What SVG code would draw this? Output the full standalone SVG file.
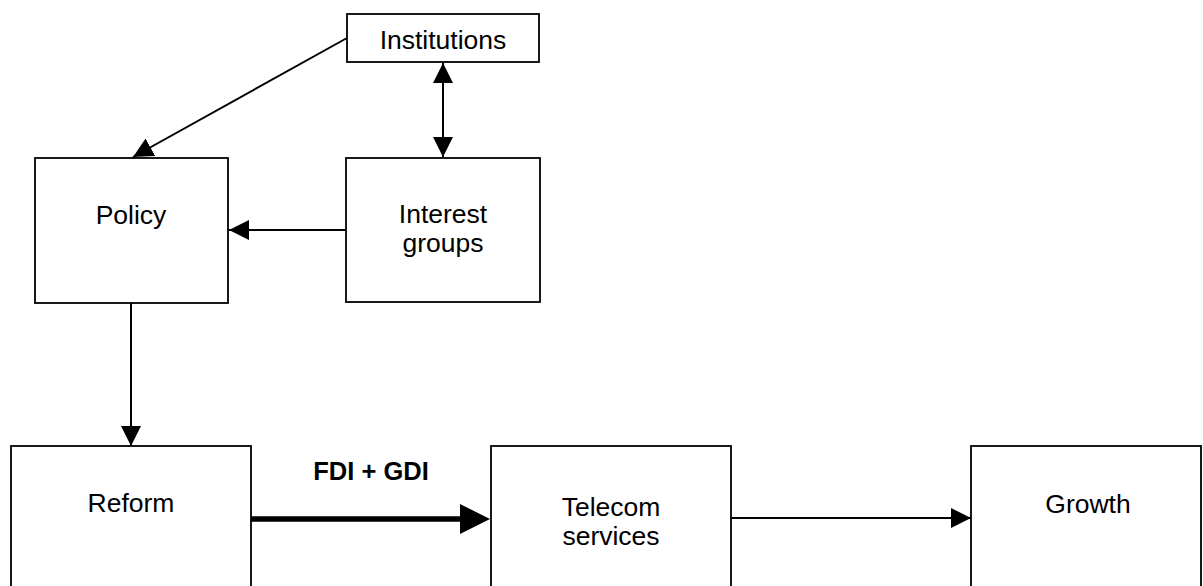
<svg xmlns="http://www.w3.org/2000/svg" width="1203" height="586" viewBox="0 0 1203 586">
<style>
.box{fill:#fff;stroke:#000;stroke-width:1.8}
.t{font-family:"Liberation Sans",Arial,sans-serif;font-size:26.5px;fill:#000;text-anchor:middle}
.b{font-weight:bold;font-size:25.5px}
.ln{stroke:#000;stroke-width:2;fill:none}
.thick{stroke:#000;stroke-width:5.5;fill:none}
</style>
<defs>
<marker id="ah" markerUnits="userSpaceOnUse" markerWidth="20" markerHeight="20" viewBox="0 0 20 20" refX="20" refY="10" orient="auto-start-reverse"><path d="M0,0 L20,10 L0,20 z" fill="#000"/></marker>
<marker id="ahb" markerUnits="userSpaceOnUse" markerWidth="30" markerHeight="30" viewBox="0 0 30 30" refX="10" refY="15" orient="auto"><path d="M0,0 L30,15 L0,30 z" fill="#000"/></marker>
</defs>
<rect width="1203" height="586" fill="#fff"/>
<g id="institutions"><rect class="box" x="347" y="14" width="192" height="48"/><text class="t" x="443" y="49">Institutions</text></g>
<g id="policy"><rect class="box" x="35" y="158" width="193" height="145"/><text class="t" x="131" y="224">Policy</text></g>
<g id="interest-groups"><rect class="box" x="346" y="158" width="194" height="144"/><text class="t" x="443" y="223">Interest</text><text class="t" x="443" y="252">groups</text></g>
<g id="reform"><rect class="box" x="11" y="446" width="240" height="170"/><text class="t" x="131" y="512">Reform</text></g>
<g id="telecom"><rect class="box" x="491" y="446" width="240" height="170"/><text class="t" x="611" y="516">Telecom</text><text class="t" x="611" y="545">services</text></g>
<g id="growth"><rect class="box" x="971" y="446" width="230" height="170"/><text class="t" x="1088" y="513">Growth</text></g>
<g id="connectors">
<line class="ln" x1="347" y1="38" x2="133" y2="157" marker-end="url(#ah)"/>
<line class="ln" x1="443" y1="63" x2="443" y2="157" marker-start="url(#ah)" marker-end="url(#ah)"/>
<line class="ln" x1="346" y1="230" x2="229" y2="230" marker-end="url(#ah)"/>
<line class="ln" x1="131" y1="303" x2="131" y2="446" marker-end="url(#ah)"/>
<line class="thick" x1="251" y1="519" x2="470" y2="519" marker-end="url(#ahb)"/>
<text class="t b" x="371" y="480">FDI + GDI</text>
<line class="ln" x1="731" y1="518" x2="971" y2="518" marker-end="url(#ah)"/>
</g>
</svg>
